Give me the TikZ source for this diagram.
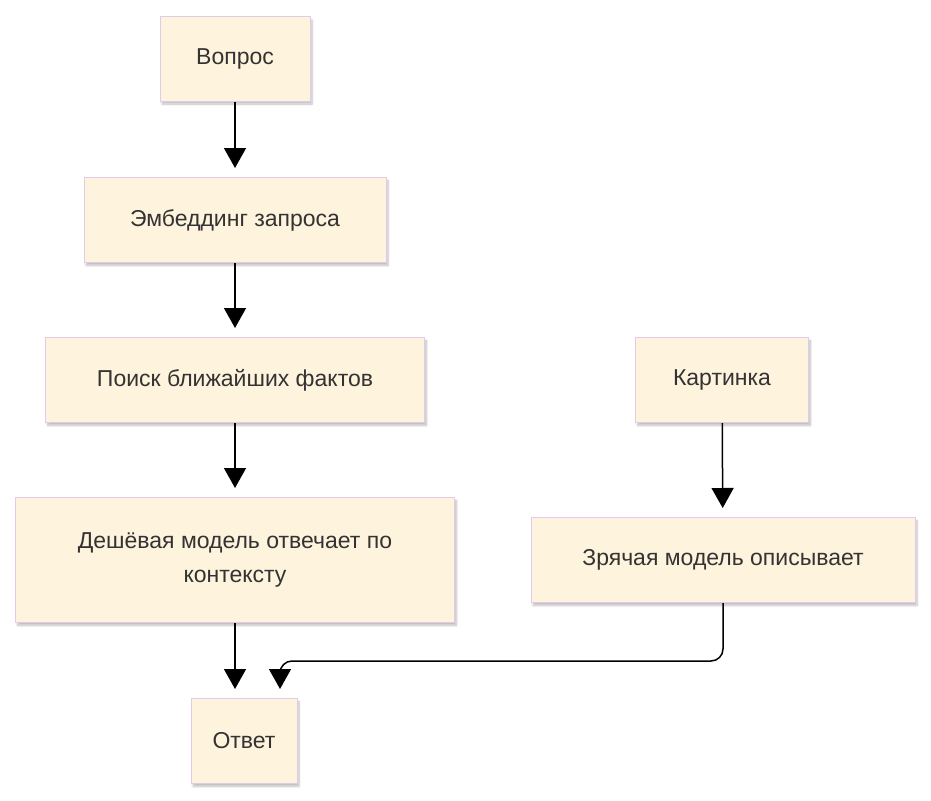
\documentclass[tikz,border=0pt]{standalone}
\usepackage{fontspec}
\setmainfont{Liberation Sans}
\usetikzlibrary{arrows.meta,shadows.blur}
\definecolor{boxfill}{HTML}{FEF3DC}
\definecolor{boxline}{HTML}{E2CBEA}
\definecolor{txt}{HTML}{333333}
\begin{document}
\begin{tikzpicture}[x=1pt,y=-1pt,
 box/.style={draw=boxline,line width=1pt,fill=boxfill,text=txt,font=\fontsize{23}{34}\selectfont,align=center,blur shadow={shadow xshift=2pt,shadow yshift=-3pt,shadow blur steps=6,shadow opacity=25}},
 arr/.style={-{Triangle[width=22pt,length=20pt]},line width=1.5pt,shorten >=9pt,rounded corners=12pt}]
\useasboundingbox (0,0) rectangle (931,800);
\node[box,minimum width=150pt,minimum height=84pt] (q) at (235,59) {Вопрос};
\node[box,minimum width=302pt,minimum height=85pt] (e) at (235,220) {Эмбеддинг запроса};
\node[box,minimum width=379pt,minimum height=85pt] (s) at (235,380) {Поиск ближайших фактов};
\node[box,minimum width=439pt,minimum height=125pt] (d) at (235,560) {Дешёвая модель отвечает по\\контексту};
\node[box,minimum width=106pt,minimum height=85pt] (o) at (244,741) {Ответ};
\node[box,minimum width=173pt,minimum height=85pt] (k) at (722,380) {Картинка};
\node[box,minimum width=384pt,minimum height=85pt] (z) at (723,560) {Зрячая модель описывает};
\draw[arr] (q) -- (e);
\draw[arr] (e) -- (s);
\draw[arr] (s) -- (d);
\draw[arr] (d.south -| 235,0) -- (o.north -| 235,0);
\draw[arr] (k) -- (z);
\draw[arr] (z.south) -- (723,661) -- (280,661) -- (o.north -| 280,0);
\end{tikzpicture}
\end{document}
